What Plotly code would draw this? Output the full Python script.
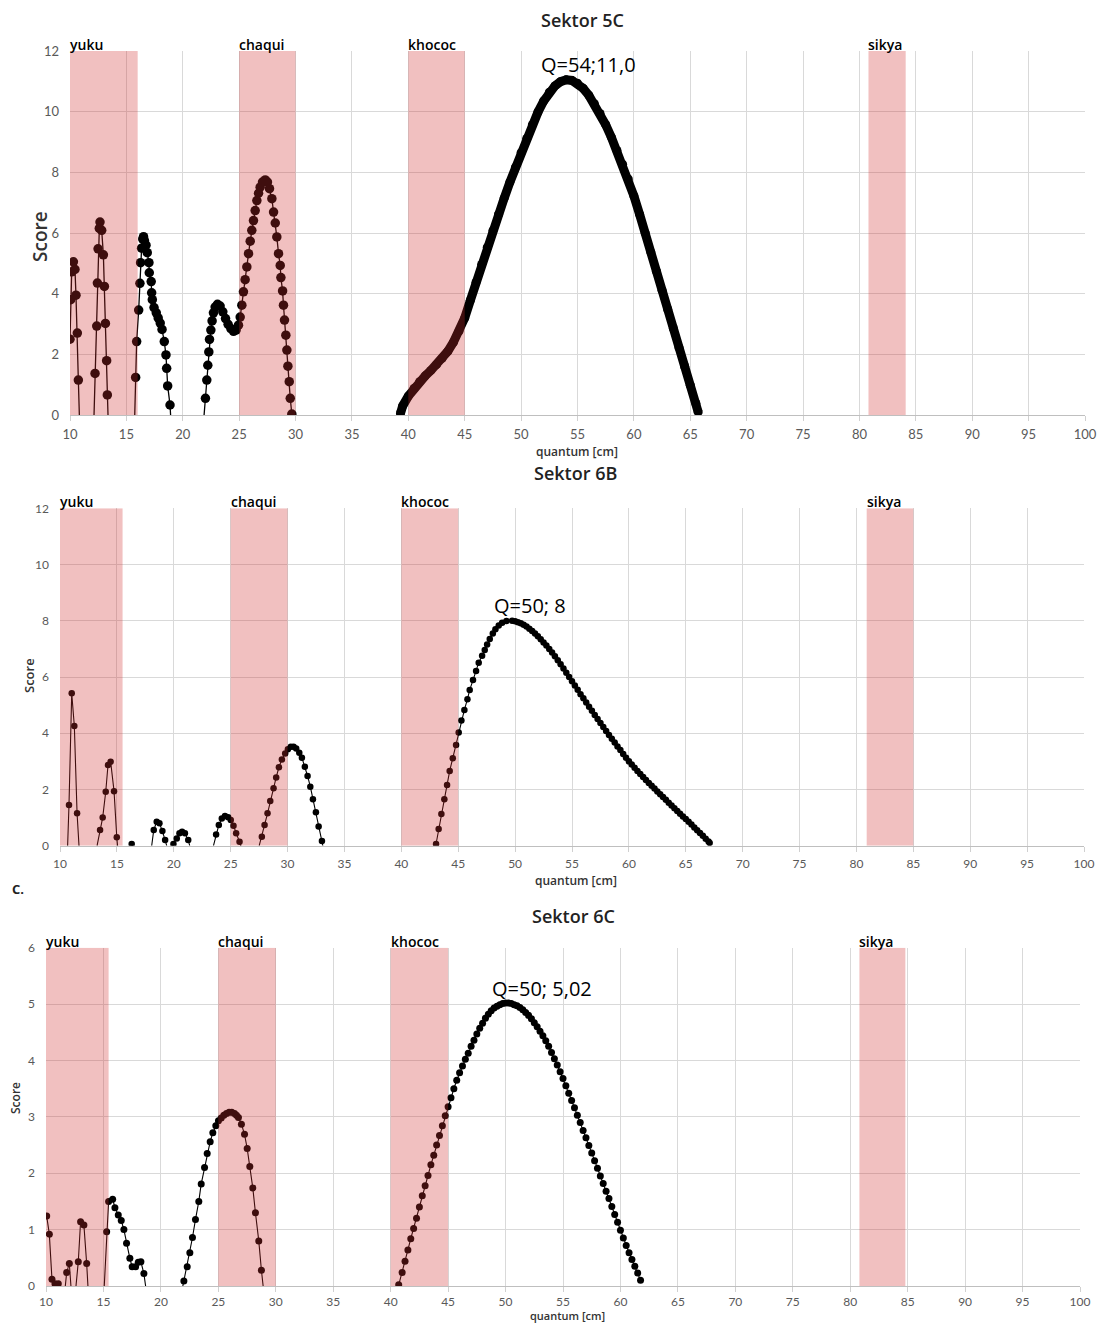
import plotly.graph_objects as go

# ---------------- DATA ----------------
band_names = ["yuku", "chaqui", "khococ", "sikya"]

# Sektor 5C (top)
top_band_start = [10, 25, 40, 80.8]
top_band_end = [16, 30, 45, 84.1]
top_seg_x = [
    [10.0, 10.06, 10.15, 10.3, 10.44, 10.53, 10.65, 10.74, 10.83],
    [12.13, 12.22, 12.37, 12.43, 12.49, 12.6, 12.66, 12.81, 12.96, 13.05, 13.14, 13.25, 13.31, 13.37],
    [15.74, 15.82, 15.91, 16.09, 16.2, 16.26, 16.35, 16.45, 16.52, 16.6, 16.74, 16.85, 17.0, 17.03,
     17.2, 17.24, 17.3, 17.45, 17.65, 17.82, 18.0, 18.16, 18.36, 18.51, 18.57, 18.66, 18.87, 18.92],
    [21.89, 22.01, 22.13, 22.22, 22.31, 22.37, 22.49, 22.6, 22.72, 22.87, 23.08, 23.31, 23.55, 23.79,
     24.02, 24.26, 24.5, 24.73, 24.94, 25.09, 25.24, 25.38, 25.53, 25.68, 25.83, 25.98, 26.12, 26.27,
     26.42, 26.57, 26.72, 26.86, 27.07, 27.31, 27.51, 27.69, 27.9, 28.05, 28.2, 28.34, 28.49, 28.64,
     28.7, 28.85, 28.93, 29.02, 29.14, 29.23, 29.32, 29.44, 29.53, 29.67],
]
top_seg_y = [
    [2.5, 3.8, 4.72, 5.05, 4.8, 3.95, 2.7, 1.15, 0],
    [0, 1.37, 2.93, 4.35, 5.48, 6.15, 6.36, 6.09, 5.28, 4.24, 3.02, 1.79, 0.66, 0],
    [0, 1.24, 2.42, 3.46, 4.34, 5.02, 5.5, 5.8, 5.88, 5.75, 5.6, 5.35, 5.02, 4.69,
     4.4, 4.03, 3.8, 3.54, 3.37, 3.2, 3.03, 2.82, 2.42, 1.98, 1.54, 0.96, 0.33, 0],
    [0, 0.55, 1.15, 1.64, 2.08, 2.49, 2.8, 3.1, 3.37, 3.56, 3.65, 3.59, 3.4, 3.18,
     2.99, 2.85, 2.76, 2.8, 2.96, 3.23, 3.62, 4.06, 4.46, 4.88, 5.32, 5.73, 6.09, 6.41,
     6.74, 7.07, 7.31, 7.51, 7.68, 7.75, 7.68, 7.46, 7.13, 6.69, 6.33, 5.87, 5.32, 4.93,
     4.53, 4.09, 3.62, 3.13, 2.63, 2.14, 1.61, 1.1, 0.55, 0.03],
]
top_main_x = [39.3, 39.5, 40.0, 40.5, 41.0, 41.5, 42.0, 42.5, 43.0, 43.5, 44.0, 44.5, 45.0, 45.5,
              46.0, 46.5, 47.0, 47.5, 48.0, 48.5, 49.0, 49.5, 50.0, 50.5, 51.0, 51.5, 52.0, 52.5,
              53.0, 53.5, 54.0, 54.5, 55.0, 55.5, 56.0, 56.5, 57.0, 57.5, 58.0, 58.5, 59.0, 59.5,
              60.0, 60.5, 61.0, 61.5, 62.0, 62.5, 63.0, 63.5, 64.0, 64.5, 65.0, 65.5, 65.7]
top_main_y = [0.05, 0.3, 0.62, 0.88, 1.1, 1.29, 1.47, 1.66, 1.87, 2.1, 2.4, 2.77, 3.2, 3.78,
              4.38, 4.96, 5.53, 6.08, 6.62, 7.15, 7.67, 8.17, 8.65, 9.12, 9.57, 9.99, 10.35, 10.64,
              10.85, 10.99, 11.05, 11.03, 10.94, 10.77, 10.54, 10.26, 9.94, 9.57, 9.16, 8.72, 8.27, 7.78,
              7.22, 6.62, 6.0, 5.37, 4.74, 4.11, 3.48, 2.85, 2.22, 1.6, 0.98, 0.38, 0.1]

# Sektor 6B (middle)
mid_band_start = [10, 25, 40, 80.9]
mid_band_end = [15.5, 30, 45, 85]
mid_seg_x = [
    [10.67, 10.79, 11.03, 11.26, 11.5, 11.67],
    [13.26, 13.52, 13.75, 14.02, 14.22, 14.45, 14.75, 14.99, 15.06],
    [16.22, 16.3, 16.38],
    [18.06, 18.24, 18.5, 18.74, 19.0, 19.24, 19.38],
    [19.9, 19.97, 20.26, 20.5, 20.73, 20.98, 21.27, 21.4],
    [23.49, 23.72, 23.96, 24.22, 24.5, 24.78, 25.01, 25.25, 25.48, 25.78, 25.9],
    [27.51, 27.74, 27.98, 28.24, 28.48, 28.77, 29.0, 29.24, 29.5, 29.79, 30.03, 30.29, 30.53,
     30.76, 31.03, 31.26, 31.52, 31.76, 32.0, 32.23, 32.49, 32.73, 33.02, 33.1],
    [43.05, 43.28, 43.52, 43.78, 44.02, 44.25, 44.52, 44.81, 45.04, 45.28, 45.54, 45.81, 46.01,
     46.3, 46.57, 46.8, 47.1, 47.33, 47.54, 47.77, 48.04, 48.27, 48.56, 48.86, 49.24, 49.74,
     50.0, 50.25, 50.5, 50.75, 51.0, 51.25, 51.5, 51.75, 52.0, 52.25, 52.5, 52.75, 53.0, 53.25,
     53.5, 53.75, 54.0, 54.25, 54.5, 54.75, 55.0, 55.25, 55.5, 55.75, 56.0, 56.25, 56.5, 56.75,
     57.0, 57.25, 57.5, 57.75, 58.0, 58.25, 58.5, 58.75, 59.0, 59.25, 59.5, 59.75, 60.0, 60.25,
     60.5, 60.75, 61.0, 61.25, 61.5, 61.75, 62.0, 62.25, 62.5, 62.75, 63.0, 63.25, 63.5, 63.75,
     64.0, 64.25, 64.5, 64.75, 65.0, 65.25, 65.5, 65.75, 66.0, 66.25, 66.5, 66.75, 67.0, 67.1],
]
mid_seg_y = [
    [0, 1.45, 5.42, 4.26, 1.15, 0],
    [0, 0.56, 1.0, 1.92, 2.87, 2.99, 1.94, 0.3, 0],
    [0, 0.06, 0],
    [0, 0.56, 0.85, 0.8, 0.52, 0.2, 0],
    [0, 0.06, 0.26, 0.44, 0.5, 0.44, 0.2, 0],
    [0, 0.4, 0.74, 0.97, 1.06, 1.01, 0.91, 0.71, 0.44, 0.14, 0],
    [0, 0.32, 0.74, 1.15, 1.59, 2.04, 2.43, 2.79, 3.07, 3.28, 3.43, 3.52, 3.52,
     3.46, 3.31, 3.13, 2.81, 2.48, 2.1, 1.65, 1.19, 0.68, 0.17, 0],
    [0.06, 0.59, 1.13, 1.65, 2.16, 2.66, 3.11, 3.58, 4.03, 4.45, 4.83, 5.21, 5.54,
     5.89, 6.21, 6.51, 6.76, 6.96, 7.16, 7.35, 7.55, 7.7, 7.83, 7.93, 7.99, 8.0,
     7.98, 7.95, 7.91, 7.86, 7.8, 7.72, 7.64, 7.55, 7.45, 7.34, 7.23, 7.12, 7.0, 6.87,
     6.74, 6.6, 6.45, 6.3, 6.15, 6.0, 5.85, 5.7, 5.55, 5.39, 5.24, 5.09, 4.94, 4.8,
     4.65, 4.51, 4.36, 4.22, 4.08, 3.94, 3.8, 3.67, 3.53, 3.4, 3.26, 3.13, 3.0, 2.89,
     2.77, 2.66, 2.55, 2.44, 2.34, 2.23, 2.13, 2.03, 1.93, 1.83, 1.73, 1.63, 1.53, 1.43,
     1.33, 1.23, 1.14, 1.04, 0.95, 0.85, 0.75, 0.65, 0.55, 0.45, 0.35, 0.25, 0.15, 0.1],
]

# Sektor 6C (bottom)
bot_band_start = [10, 25, 40, 80.8]
bot_band_end = [15.45, 30, 45, 84.8]
bot_seg_x = [
    [10.06, 10.29, 10.52, 10.78, 11.07, 11.16],
    [11.68, 11.8, 12.03, 12.17],
    [12.61, 12.81, 13.01, 13.3, 13.54, 13.65],
    [15.07, 15.28, 15.45, 15.8, 16.0, 16.29, 16.55, 16.78, 17.01, 17.3, 17.5, 17.8, 18.03,
     18.26, 18.52, 18.67],
    [21.91, 22.0, 22.29, 22.52, 22.75, 23.01, 23.3, 23.51, 23.8, 24.03, 24.29, 24.52, 24.78,
     25.01, 25.25, 25.48, 25.71, 25.94, 26.17, 26.41, 26.58, 26.75, 27.01, 27.28, 27.51, 27.74,
     28.0, 28.23, 28.52, 28.75, 28.9],
    [40.7, 41.0, 41.25, 41.5, 41.75, 42.0, 42.25, 42.5, 42.75, 43.0, 43.25, 43.5, 43.75, 44.0,
     44.25, 44.5, 44.75, 45.0, 45.25, 45.5, 45.75, 46.0, 46.25, 46.5, 46.75, 47.0, 47.25, 47.5,
     47.75, 48.0, 48.25, 48.5, 48.75, 49.0, 49.25, 49.5, 49.75, 50.0, 50.25, 50.5, 50.75, 51.0,
     51.25, 51.5, 51.75, 52.0, 52.25, 52.5, 52.75, 53.0, 53.25, 53.5, 53.75, 54.0, 54.25, 54.5,
     54.75, 55.0, 55.25, 55.5, 55.75, 56.0, 56.25, 56.5, 56.75, 57.0, 57.25, 57.5, 57.75, 58.0,
     58.25, 58.5, 58.75, 59.0, 59.25, 59.5, 59.75, 60.0, 60.25, 60.5, 60.75, 61.0, 61.25, 61.5,
     61.75],
]
bot_seg_y = [
    [1.24, 0.92, 0.12, 0.04, 0.04, 0],
    [0, 0.24, 0.4, 0],
    [0, 0.43, 1.14, 1.08, 0.4, 0],
    [0, 0.96, 1.5, 1.54, 1.39, 1.26, 1.16, 1.0, 0.76, 0.49, 0.34, 0.34, 0.42,
     0.43, 0.22, 0],
    [0, 0.09, 0.34, 0.59, 0.86, 1.18, 1.5, 1.81, 2.1, 2.35, 2.56, 2.72, 2.84,
     2.93, 2.98, 3.03, 3.06, 3.08, 3.08, 3.06, 3.03, 2.99, 2.87, 2.69, 2.44, 2.12,
     1.74, 1.3, 0.8, 0.28, 0],
    [0.02, 0.24, 0.44, 0.64, 0.84, 1.02, 1.2, 1.4, 1.6, 1.78, 1.96, 2.15, 2.32, 2.5,
     2.67, 2.84, 3.02, 3.18, 3.34, 3.5, 3.65, 3.78, 3.9, 4.02, 4.13, 4.25, 4.36, 4.47,
     4.57, 4.66, 4.75, 4.82, 4.88, 4.93, 4.96, 4.99, 5.01, 5.02, 5.02, 5.01, 4.99, 4.97,
     4.94, 4.9, 4.85, 4.8, 4.74, 4.67, 4.6, 4.52, 4.44, 4.35, 4.25, 4.14, 4.03, 3.92,
     3.8, 3.68, 3.55, 3.42, 3.29, 3.16, 3.03, 2.9, 2.76, 2.63, 2.49, 2.36, 2.22, 2.09,
     1.95, 1.82, 1.68, 1.55, 1.41, 1.27, 1.13, 0.99, 0.85, 0.72, 0.59, 0.47, 0.35, 0.23,
     0.1],
]

titles = ["Sektor 5C", "Sektor 6B", "Sektor 6C"]
peak_labels = ["Q=54;11,0", "Q=50; 8", "Q=50; 5,02"]
peak_label_pos = [(56.0, 11.55), (51.3, 8.55), (53.2, 5.28)]
y_max = [12, 12, 6]
y_dtick = [2, 2, 1]

# ---------------- LAYOUT GEOMETRY ----------------
W, H = 1098, 1324
px_x = [(70, 1085), (60, 1084), (46, 1080)]
px_y = [(51, 415), (508.3, 845.7), (947.7, 1286)]

fig = go.Figure()

def join_segments(seg_x, seg_y):
    xs, ys = [], []
    for sx, sy in zip(seg_x, seg_y):
        xs += list(sx) + [None]
        ys += list(sy) + [None]
    return xs, ys

def marker_points(seg_x, seg_y):
    xs, ys = [], []
    for sx, sy in zip(seg_x, seg_y):
        for a, b in zip(sx, sy):
            if b > 0:
                xs.append(a)
                ys.append(b)
    return xs, ys

panels = [
    (top_seg_x, top_seg_y, top_band_start, top_band_end, 9.5, 1.3),
    (mid_seg_x, mid_seg_y, mid_band_start, mid_band_end, 6.5, 1.1),
    (bot_seg_x, bot_seg_y, bot_band_start, bot_band_end, 7, 1.1),
]

tick_sizes = [13, 12, 12]
x_standoff = [2, 2, 0]
for i, (sx, sy, bs, be, msize, lw) in enumerate(panels):
    n = i + 1
    xa = "x" if n == 1 else f"x{n}"
    ya = "y" if n == 1 else f"y{n}"
    lx, ly = join_segments(sx, sy)
    fig.add_trace(go.Scatter(x=lx, y=ly, mode="lines", xaxis=xa, yaxis=ya,
                             line=dict(color="black", width=lw), showlegend=False,
                             connectgaps=False, hoverinfo="skip"))
    mx, my = marker_points(sx, sy)
    fig.add_trace(go.Scatter(x=mx, y=my, mode="markers", xaxis=xa, yaxis=ya,
                             marker=dict(color="black", size=msize), showlegend=False))
    if n == 1:
        fig.add_trace(go.Scatter(x=top_main_x, y=top_main_y, mode="lines+markers", xaxis=xa, yaxis=ya,
                                 line=dict(color="black", width=9),
                                 marker=dict(color="black", size=9),
                                 showlegend=False))

    (x0, x1), (y0, y1) = px_x[i], px_y[i]
    xdom = [x0 / W, x1 / W]
    ydom = [1 - y1 / H, 1 - y0 / H]
    axis_common = dict(gridcolor="#d9d9d9", gridwidth=1, zeroline=False, automargin=False,
                       tickfont=dict(family="Lato, Open Sans, sans-serif", size=tick_sizes[i], color="#595959"))
    fig.update_layout({
        ("xaxis" if n == 1 else f"xaxis{n}"): dict(
            domain=xdom, anchor=ya, range=[10, 100], dtick=5, tick0=10,
            showline=True, linecolor="#bfbfbf", linewidth=1,
            ticks="outside", ticklen=5, tickcolor="#d0d0d0", ticklabelstandoff=x_standoff[i],
            **axis_common),
        ("yaxis" if n == 1 else f"yaxis{n}"): dict(
            domain=ydom, anchor=xa, range=[0, y_max[i]], dtick=y_dtick[i], tick0=0,
            showline=False, ticks="", ticklabelstandoff=10, **axis_common),
    })

    # shaded bands
    for name, a, b in zip(band_names, bs, be):
        fig.add_shape(type="rect", xref=xa, yref=ya, x0=a, x1=b, y0=0, y1=y_max[i],
                      fillcolor="rgba(208,48,48,0.3)", line=dict(width=0), layer="above")
        fig.add_annotation(x=a, y=y_max[i], xref=xa, yref=ya, text=name, showarrow=False,
                           xanchor="left", yanchor="bottom", yshift=-5, xshift=-2,
                           font=dict(family="Open Sans, sans-serif", size=14, color="black", weight=600))

    # peak label
    px_, py_ = peak_label_pos[i]
    fig.add_annotation(x=px_, y=py_, xref=xa, yref=ya, text=peak_labels[i], showarrow=False,
                       xanchor="center", yanchor="middle",
                       font=dict(family="Open Sans, sans-serif", size=20, color="black"))

# titles, axis titles
title_y = [20, 473, 916]
title_x = [582, 575, 573]
qx = [577, 576, 567]
qy = [451, 880, 1315]
q_size = [12, 12, 11]
score_pos = [(40, 237, 19), (29, 676, 13), (15, 1098, 12)]
for i in range(3):
    fig.add_annotation(x=title_x[i] / W, y=1 - title_y[i] / H, xref="paper", yref="paper",
                       text=titles[i], showarrow=False, xanchor="center", yanchor="middle",
                       font=dict(family="Open Sans, sans-serif", size=18, color="#222222", weight=600))
    fig.add_annotation(x=qx[i] / W, y=1 - qy[i] / H, xref="paper", yref="paper",
                       text="quantum [cm]", showarrow=False, xanchor="center", yanchor="middle",
                       font=dict(family="Open Sans, sans-serif", size=q_size[i], color="#333333", weight=600))
    sx_, sy_, ss = score_pos[i]
    fig.add_annotation(x=sx_ / W, y=1 - sy_ / H, xref="paper", yref="paper",
                       text="Score", showarrow=False, textangle=-90,
                       xanchor="center", yanchor="middle",
                       font=dict(family="Open Sans, sans-serif", size=ss, color="#333333", weight=600))

fig.add_annotation(x=18 / W, y=1 - 889 / H, xref="paper", yref="paper", text="C.",
                   showarrow=False, xanchor="center", yanchor="middle",
                   font=dict(family="Open Sans, sans-serif", size=13, color="#222", weight=700))

fig.update_layout(width=W, height=H, margin=dict(l=0, r=0, t=0, b=0, autoexpand=False),
                  plot_bgcolor="white", paper_bgcolor="white", showlegend=False)

fig.write_html("out.html")
